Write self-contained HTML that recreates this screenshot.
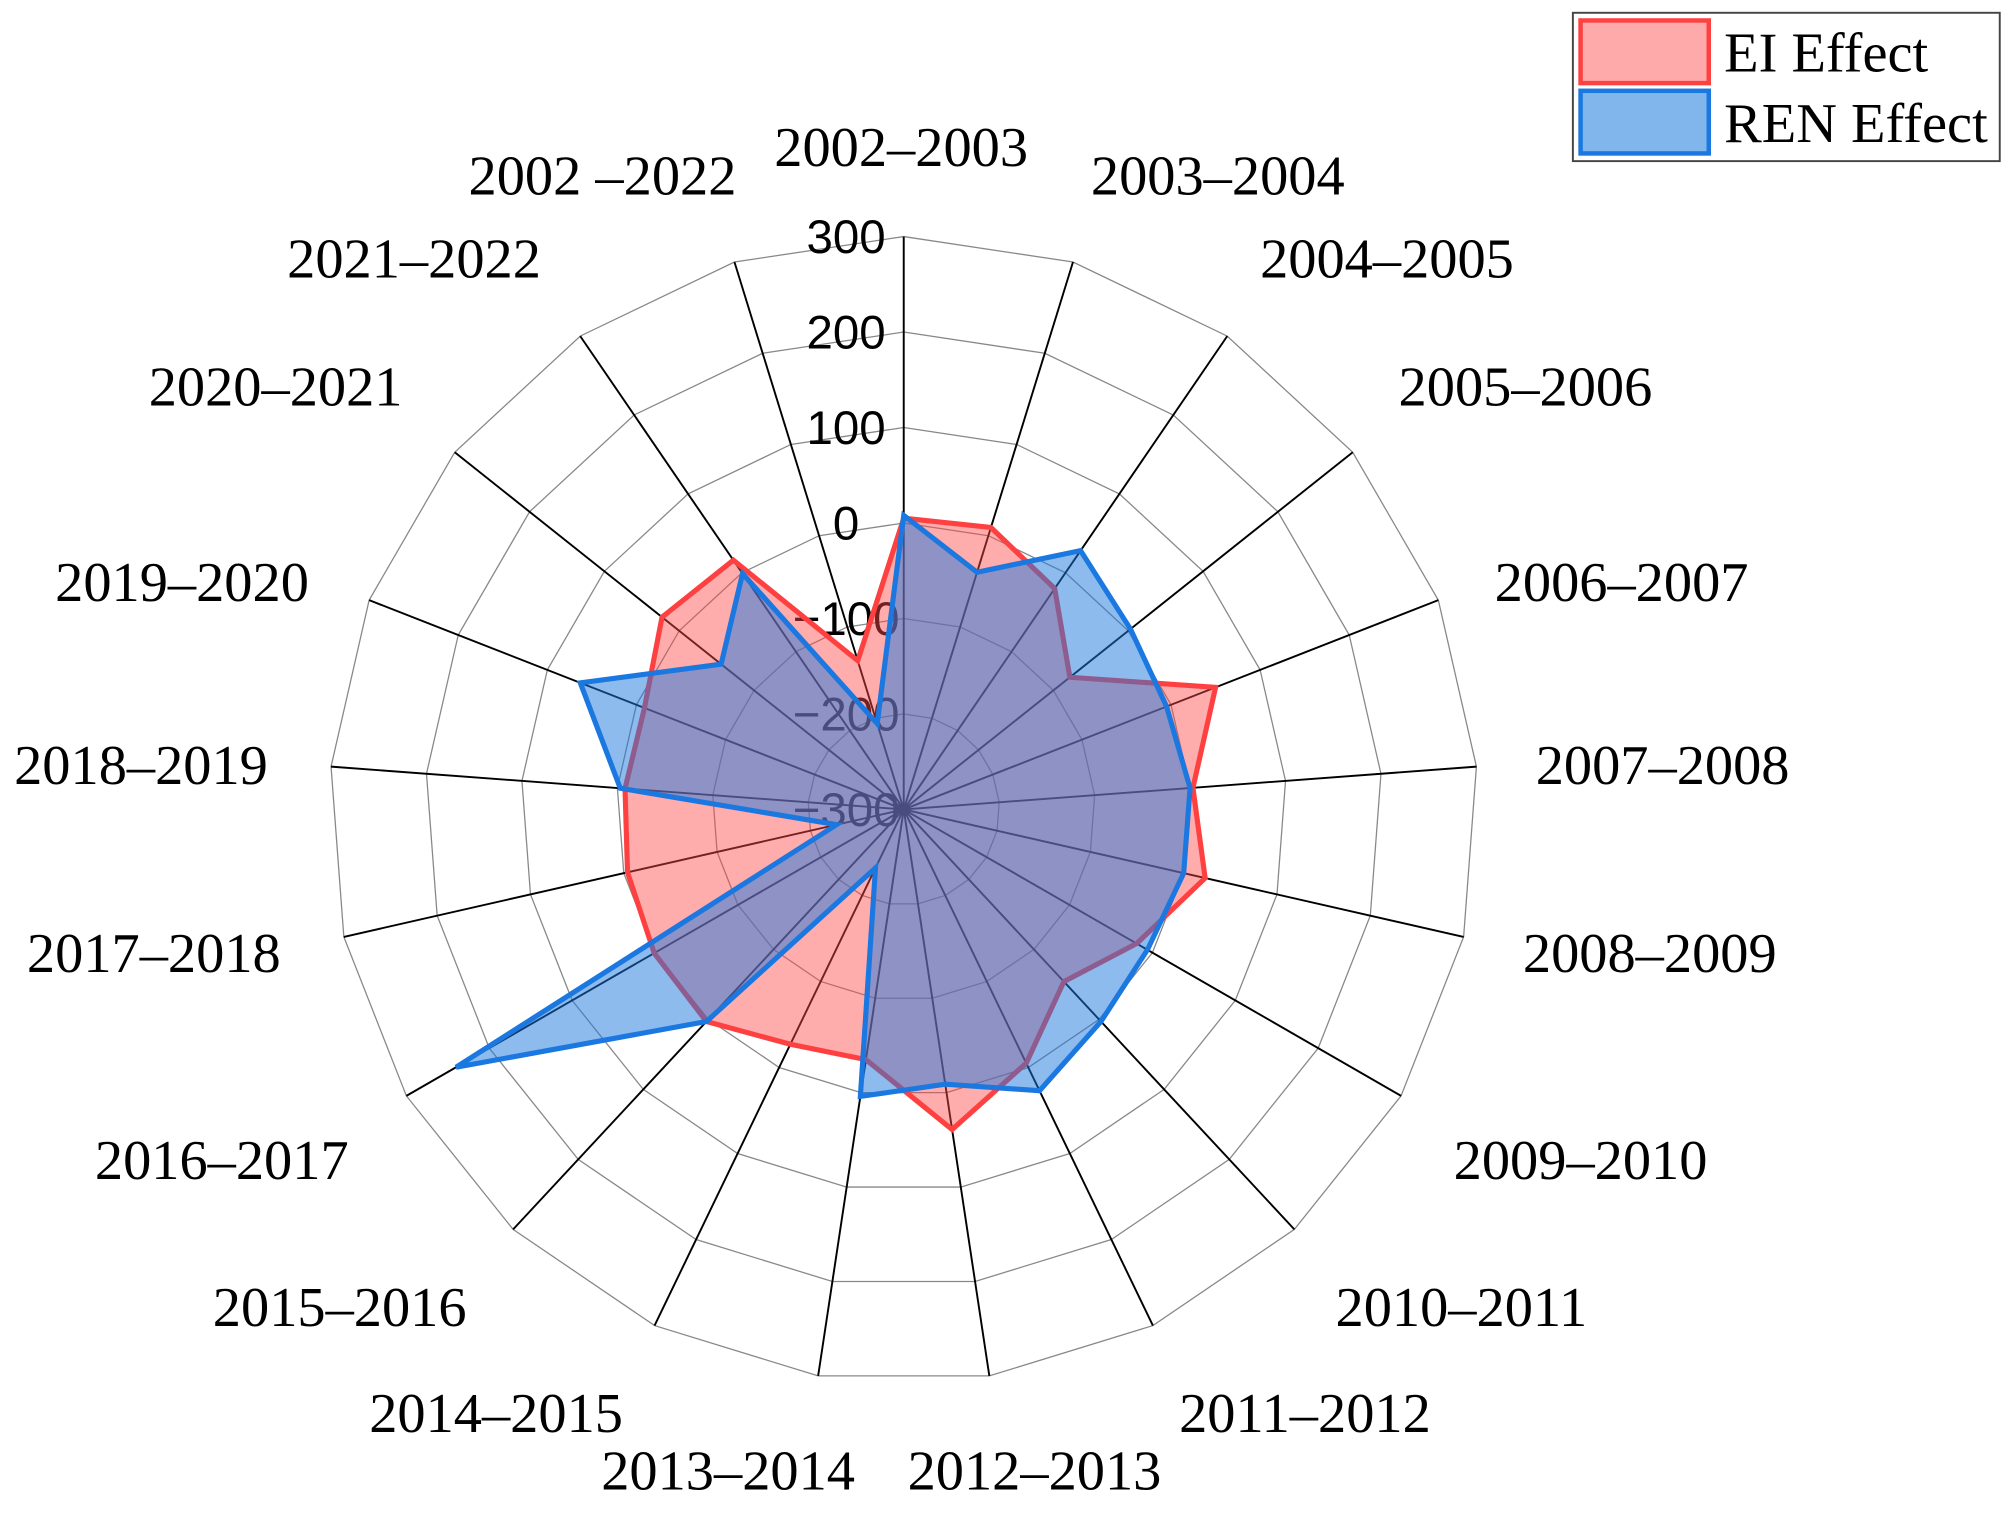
<!DOCTYPE html>
<html><head><meta charset="utf-8"><style>
html,body{margin:0;padding:0;background:#fff;}
svg{display:block;}
</style></head><body>
<svg id="chart" width="2010" height="1514" viewBox="0 0 1568 1184" preserveAspectRatio="none" xmlns="http://www.w3.org/2000/svg">
<g id="grid"></g>
<g id="ticks"></g>
<g id="series"></g>
<g id="cats"></g>
<g>
<rect x="1227" y="10" width="333" height="116" fill="#fff" stroke="#444" stroke-width="1.5"/>
<rect x="1233" y="16" width="100" height="49" fill="#ffaaaa" stroke="#ff4040" stroke-width="3.5"/>
<rect x="1233" y="71" width="100" height="49" fill="#80b6ec" stroke="#1a78e0" stroke-width="3.5"/>
<text x="1345" y="56" font-family="Liberation Serif, serif" font-size="44">EI Effect</text>
<text x="1345" y="111" font-family="Liberation Serif, serif" font-size="44">REN Effect</text>
</g>
</svg>
<script>
const categories = ["2002\u20132003","2003\u20132004","2004\u20132005","2005\u20132006","2006\u20132007","2007\u20132008","2008\u20132009","2009\u20132010","2010\u20132011","2011\u20132012","2012\u20132013","2013\u20132014","2014\u20132015","2015\u20132016","2016\u20132017","2017\u20132018","2018\u20132019","2019\u20132020","2020\u20132021","2021\u20132022","2002 \u20132022"];
const eiValues = [5,9,-20,-78,50,3,23,-19,-54,-5,39,-35,-27,3,1,-4,-8,-9,23,16,-137];
const renValues = [8,-40,28,3,-5,0,0,-6,3,27,-9,4,-232,3,240,-228,-3,63,-56,-1,-206];
const tickValues = [-300,-200,-100,0,100,200,300];
const tickLabels = ["\u2212300","\u2212200","\u2212100","0","100","200","300"];

/* layout only: label centre positions */
const labelLayoutX = [703,950,1082,1190,1265,1297,1287,1233,1140,1018,807,568,387,265,173,120,110,142,215,323,470];
const labelLayoutY = [115,137,202,302,455,598,745,907,1022,1105,1150,1150,1105,1022,907,745,598,455,302,202,137];

const NS="http://www.w3.org/2000/svg";
const cx=705, cy=633, R=448, vMin=-300, vMax=300;
const n=categories.length;
function rScale(v){return (v-vMin)/(vMax-vMin)*R;}
function ang(i){return i*2*Math.PI/n;}
function pt(i,v){const r=rScale(v),a=ang(i);return [cx+r*Math.sin(a), cy-r*Math.cos(a)];}
function mk(tag,attrs,parent){const e=document.createElementNS(NS,tag);for(const k in attrs)e.setAttribute(k,attrs[k]);parent.appendChild(e);return e;}

const grid=document.getElementById('grid');
tickValues.forEach((t,k)=>{
  if(t===vMin) return;
  const pts=categories.map((c,i)=>pt(i,t).join(',')).join(' ');
  const ring=mk('polygon',{points:pts,fill:'none',stroke:'#888','stroke-width':1},grid);
  
  
});
categories.forEach((c,i)=>{
  const p=pt(i,vMax);
  const sp=mk('line',{x1:cx,y1:cy,x2:p[0],y2:p[1],stroke:'#000','stroke-width':1.5},grid);
  
  
});

const ticks=document.getElementById('ticks');
tickValues.forEach((t,k)=>{
  const y=cy-rScale(t);
  const tx=mk('text',{x:660,y:y+13,'text-anchor':'middle','font-family':'Liberation Sans, sans-serif','font-size':37,fill:'#000'},ticks);
  tx.textContent=tickLabels[k];
  
  
});

const series=document.getElementById('series');
function drawSeries(vals,fill,stroke,name){
  const pts=vals.map((v,i)=>pt(i,v).join(',')).join(' ');
  const pg=mk('polygon',{points:pts,fill:fill,stroke:stroke,'stroke-width':4,'stroke-linejoin':'miter'},series);
  
  
}
drawSeries(eiValues,'rgba(255,70,70,0.45)','#ff4040','ei-effect-area');
drawSeries(renValues,'rgba(30,120,220,0.5)','#1a78e0','ren-effect-area');

const cats=document.getElementById('cats');
categories.forEach((c,i)=>{
  const tx=mk('text',{x:labelLayoutX[i],y:labelLayoutY[i]+15,'text-anchor':'middle','font-family':'Liberation Serif, serif','font-size':44,fill:'#000'},cats);
  tx.textContent=c;
  
  
});
</script>
</body></html>
